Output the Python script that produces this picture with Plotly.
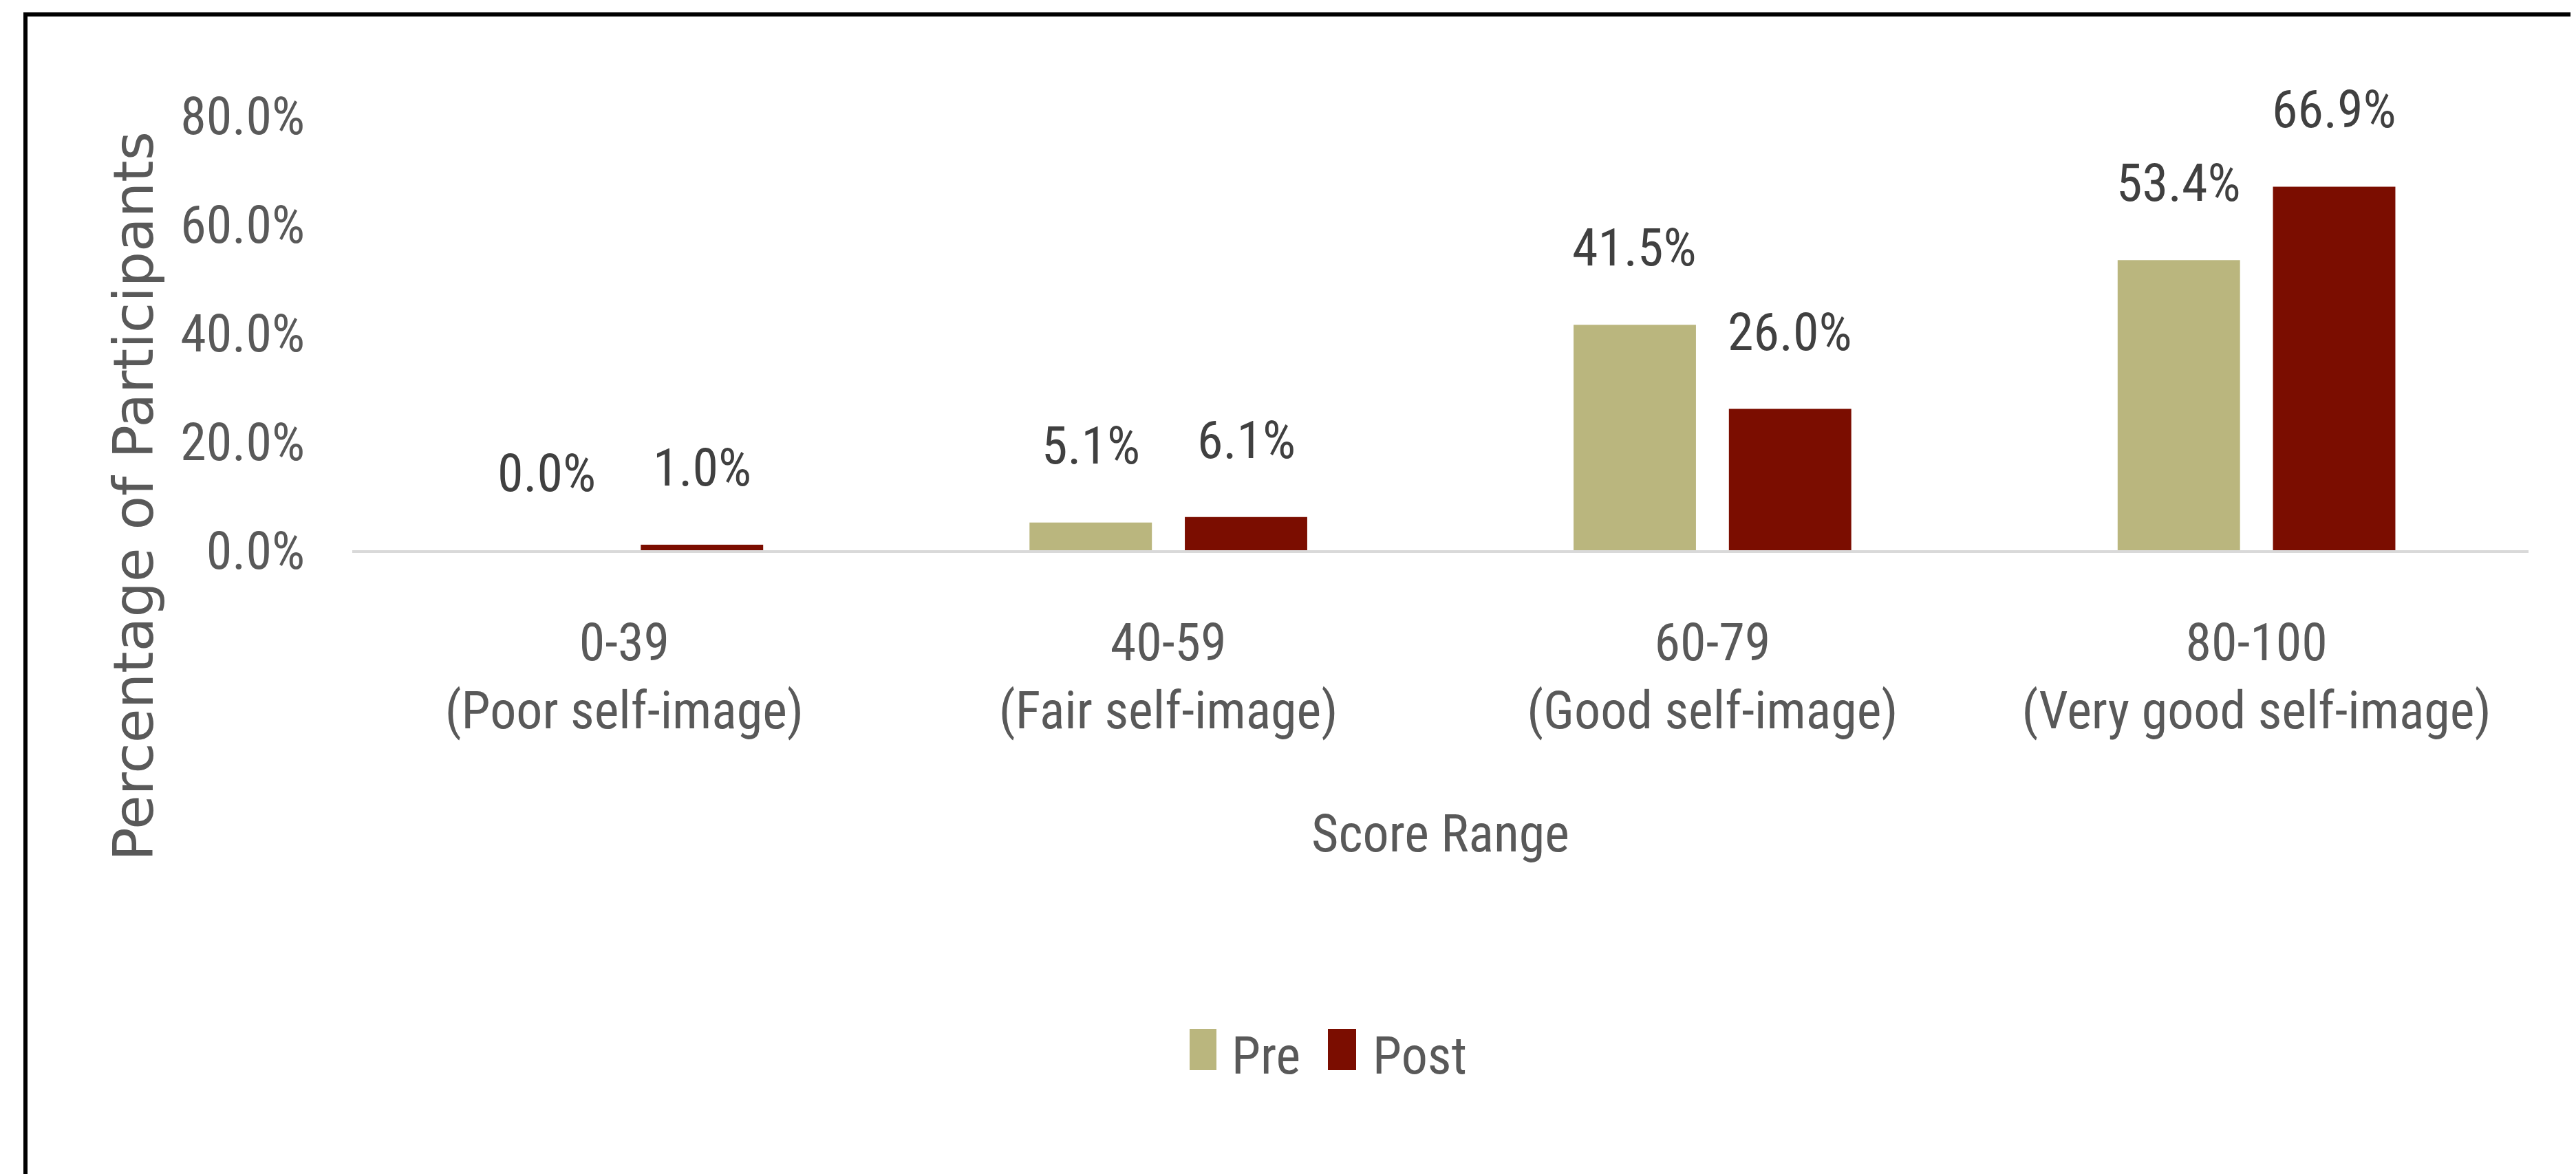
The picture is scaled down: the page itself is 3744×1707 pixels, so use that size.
import plotly.graph_objects as go

# ---- data ----
categories = ["0-39<br>(Poor self-image)", "40-59<br>(Fair self-image)",
              "60-79<br>(Good self-image)", "80-100<br>(Very good self-image)"]
series_names = ["Pre", "Post"]
pre_values = [0.0, 5.1, 41.5, 53.4]
post_values = [1.0, 6.1, 26.0, 66.9]
y_ticks = [0, 20, 40, 60, 80]
y_tick_labels = ["0.0%", "20.0%", "40.0%", "60.0%", "80.0%"]
y_title = "Percentage of Participants"
x_title = "Score Range"

colors = ["#BAB67E", "#7B0D00"]
NARROW = "Roboto Condensed, Liberation Sans Narrow, DejaVu Sans Condensed, sans-serif"
WIDE = "DejaVu Sans, Verdana, sans-serif"
AX = "#595959"
LBL = "#404040"

W, H = 3744, 1707
L, R, T, B = 504, 77, 160, 915
PW, PH = W - L - R, H - T - B


def px(x):
    return (x - L) / PW


def py(y):
    return (H - B - y) / PH


fig = go.Figure()
for name, vals, col in zip(series_names, [pre_values, post_values], colors):
    fig.add_trace(go.Bar(x=categories, y=vals, name=name, marker=dict(color=col, line=dict(width=0)),
                         showlegend=False))

# data labels above bars
for k, vals in enumerate([pre_values, post_values]):
    shift = -113 if k == 0 else 113
    for c, v in zip(categories, vals):
        fig.add_annotation(x=c, y=v, xref="x", yref="y", text=f"{v:.1f}%", showarrow=False,
                           xshift=shift, yshift=112, xanchor="center", yanchor="middle",
                           font=dict(family=NARROW, size=76, color=LBL))

# y axis title (centered like the original, lower than plot centre)
fig.add_annotation(x=px(186), y=py(714), xref="paper", yref="paper", text=y_title, textangle=-90,
                   showarrow=False, xanchor="center", yanchor="middle",
                   font=dict(family=WIDE, size=81, color=AX))

# legend (drawn manually to match large swatches)
legend_items = [(1721, 1760, 1780), (1922, 1963, 1985)]
for (x0, x1, tx), name, col in zip(legend_items, series_names, colors):
    fig.add_shape(type="rect", xref="paper", yref="paper", x0=px(x0), x1=px(x1), y0=py(1548), y1=py(1488),
                  fillcolor=col, line=dict(width=0))
    fig.add_annotation(x=px(tx), y=py(1527), xref="paper", yref="paper", text=name, showarrow=False,
                       xanchor="left", yanchor="middle", font=dict(family=NARROW, size=76, color=AX))

# outer border (left and top visible, the rest runs off the picture)
fig.add_shape(type="rect", xref="paper", yref="paper", x0=px(29), x1=px(3900), y0=py(1900), y1=py(13),
              line=dict(color="black", width=6), fillcolor="rgba(0,0,0,0)", layer="above")

fig.update_layout(
    width=W, height=H,
    margin=dict(l=L, r=R, t=T, b=B, autoexpand=False),
    paper_bgcolor="white", plot_bgcolor="white",
    barmode="group", bargap=0.429, bargroupgap=0.212,
    showlegend=False,
    xaxis=dict(showline=True, linecolor="#D9D9D9", linewidth=4, showgrid=False, zeroline=False,
               ticks="", tickfont=dict(family=NARROW, size=76, color=AX), ticklabelstandoff=65,
               title=dict(text=x_title, font=dict(family=NARROW, size=76, color=AX), standoff=109),
               automargin=False),
    yaxis=dict(range=[0, 80], tickmode="array", tickvals=y_ticks, ticktext=y_tick_labels, showgrid=False,
               zeroline=False, showline=False, ticks="", ticklabelstandoff=68,
               tickfont=dict(family=NARROW, size=76, color=AX), automargin=False),
)
fig.write_html("out.html")
